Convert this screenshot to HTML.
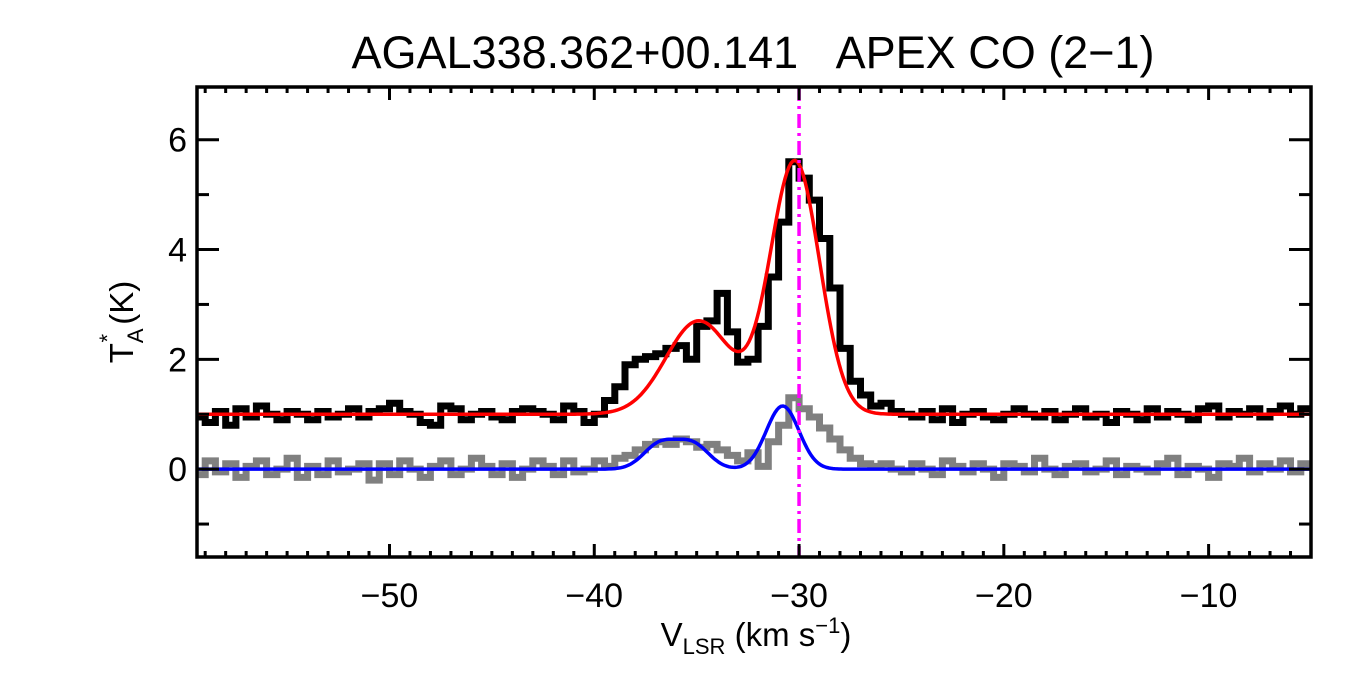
<!DOCTYPE html>
<html><head><meta charset="utf-8"><style>
body{margin:0;background:#fff;}
svg{display:block;font-family:"Liberation Sans",sans-serif;}
</style></head><body>
<svg id="chart" width="1350" height="675" viewBox="0 0 1350 675" xmlns="http://www.w3.org/2000/svg">
<rect width="1350" height="675" fill="#fff"/>
<text x="753" y="68" font-size="45" text-anchor="middle">AGAL338.362+00.141&#160;&#160;&#160;APEX CO (2−1)</text>
<g id="plot"></g>
<g transform="translate(133,322) rotate(-90)">
<text font-size="33" text-anchor="middle">T<tspan font-size="22" dy="10">A</tspan><tspan font-size="22" dx="-14" dy="-28">*</tspan><tspan dy="18"> (K)</tspan></text>
</g>
<text x="756" y="646" font-size="33" text-anchor="middle">V<tspan font-size="22" dy="8">LSR</tspan><tspan dy="-8"> (km s</tspan><tspan font-size="22" dy="-13">−1</tspan><tspan dy="13">)</tspan></text>
</svg>
<script>
const xTicks=[-50,-40,-30,-20,-10];
const yTicks=[0,2,4,6];
const chanStart=-59.25, chanWidth=0.5;
const black=[0.95,0.85,1.05,0.8,1.1,0.95,1.15,1.0,0.9,1.05,1.0,0.9,1.05,0.95,1.0,1.1,0.95,1.05,1.1,1.2,1.05,1.0,0.85,0.8,1.15,1.1,0.9,1.0,1.05,0.95,0.9,1.05,1.1,1.05,1.0,0.9,1.15,1.05,0.85,1.0,
1.25,1.5,1.9,2.0,2.05,2.1,2.2,2.25,2.0,2.6,2.7,3.2,2.5,1.95,2.0,2.6,3.5,4.5,5.6,5.3,4.9,4.2,3.3,2.2,1.6,1.35,1.15,1.2,1.05,
1.0,0.95,1.05,0.9,1.1,0.85,1.0,1.05,0.95,0.9,1.0,1.1,1.0,0.95,1.05,0.9,1.0,1.1,0.95,1.0,0.85,1.05,1.0,0.9,1.1,0.95,1.05,1.0,0.9,1.1,1.15,0.95,1.05,1.0,1.1,0.95,1.05,1.15,1.0,1.1];
const grey=[-0.1,0.15,-0.05,0.1,-0.15,0.05,0.15,-0.1,0.0,0.2,-0.15,0.05,-0.1,0.15,-0.05,0.0,0.1,-0.2,0.1,-0.1,0.15,0.0,-0.15,0.05,0.15,-0.1,0.0,0.2,0.05,-0.1,0.1,-0.15,0.0,0.15,0.05,-0.1,0.15,-0.05,0.0,0.15,
0.05,0.2,0.25,0.35,0.45,0.5,0.45,0.55,0.5,0.4,0.45,0.35,0.25,0.15,0.3,0.05,0.5,0.8,1.3,1.1,0.95,0.75,0.55,0.35,0.2,0.1,0.05,0.1,0.0,
-0.05,0.1,0.0,-0.1,0.15,0.05,-0.05,0.1,0.0,-0.15,0.1,0.05,-0.05,0.2,0.0,-0.1,0.05,0.1,-0.05,0.0,0.15,-0.1,0.05,0.0,-0.05,0.1,0.2,-0.1,0.05,0.0,-0.15,0.1,0.05,0.2,-0.05,0.1,0.0,0.15,-0.05,0.1];
const redBase=1.0, redAmp=[4.6,1.7], redCen=[-30.2,-34.9], redSig=[1.2,1.6];
const blueBase=0.0, blueAmp=[1.15,0.45,0.45], blueCen=[-30.8,-36.8,-35.2], blueSig=[0.8,0.8,0.8];
const markerV=-30;

const L=197,R=1311,T=87,B=557, xmin=-59.4,xmax=-5,ymin=-1.6,ymax=6.96;
const X=v=>L+(v-xmin)/(xmax-xmin)*(R-L);
const Y=t=>B-(t-ymin)/(ymax-ymin)*(B-T);
const NS='http://www.w3.org/2000/svg';
const g=document.getElementById('plot');
function mk(tag,attrs){const e=document.createElementNS(NS,tag);for(const k in attrs)e.setAttribute(k,attrs[k]);g.appendChild(e);return e;}
const clip=mk('clipPath',{id:'c'});const cr=document.createElementNS(NS,'rect');cr.setAttribute('x',L);cr.setAttribute('y',T);cr.setAttribute('width',R-L);cr.setAttribute('height',B-T);clip.appendChild(cr);
function stepPath(arr){let d='';arr.forEach((t,i)=>{const v0=chanStart+i*chanWidth-chanWidth/2,v1=v0+chanWidth;d+=(i?'L':'M')+X(v0).toFixed(1)+','+Y(t).toFixed(1)+'L'+X(v1).toFixed(1)+','+Y(t).toFixed(1);});return d;}
function fitPath(base,A,C,S){let d='';for(let px=L;px<=R;px+=2){const v=xmin+(px-L)/(R-L)*(xmax-xmin);let t=base;A.forEach((a,k)=>{t+=a*Math.exp(-Math.pow(v-C[k],2)/(2*S[k]*S[k]));});d+=(px===L?'M':'L')+px+','+Y(t).toFixed(1);}return d;}
let e;
e=mk('path',{d:stepPath(grey),fill:'none',stroke:'#808080','stroke-width':7,'clip-path':'url(#c)'});


e=mk('path',{d:stepPath(black),fill:'none',stroke:'#000','stroke-width':7,'clip-path':'url(#c)'});


e=mk('path',{d:fitPath(redBase,redAmp,redCen,redSig),fill:'none',stroke:'#f00','stroke-width':3.5,'clip-path':'url(#c)'});


e=mk('path',{d:fitPath(blueBase,blueAmp,blueCen,blueSig),fill:'none',stroke:'#00f','stroke-width':3.5,'clip-path':'url(#c)'});


e=mk('line',{x1:X(markerV),x2:X(markerV),y1:T,y2:B,stroke:'#f0f','stroke-width':3.5,'stroke-dasharray':'14,5,3,5'});


e=mk('rect',{x:L,y:T,width:R-L,height:B-T,fill:'none',stroke:'#000','stroke-width':3.5});


for(let v=-59;v<=-5;v++){const maj=v%10===0;const len=maj?13:6;
 e=mk('line',{x1:X(v),x2:X(v),y1:B,y2:B-len,stroke:'#000','stroke-width':3});
 
 
 e=mk('line',{x1:X(v),x2:X(v),y1:T,y2:T+len,stroke:'#000','stroke-width':3});
 
 }
xTicks.forEach(v=>{e=mk('text',{x:X(v),y:607,'font-size':34,'text-anchor':'middle'});e.textContent=String(v).replace('-','−');
 
 });
for(let t=-1;t<=6;t++){const maj=t%2===0;const len=maj?22:12;
 e=mk('line',{x1:L,x2:L+len,y1:Y(t),y2:Y(t),stroke:'#000','stroke-width':3});
 
 
 e=mk('line',{x1:R,x2:R-len,y1:Y(t),y2:Y(t),stroke:'#000','stroke-width':3});
 
 }
yTicks.forEach(t=>{e=mk('text',{x:187,y:Y(t)+12,'font-size':34,'text-anchor':'end'});e.textContent=t;
 
 });
</script>
</body></html>
